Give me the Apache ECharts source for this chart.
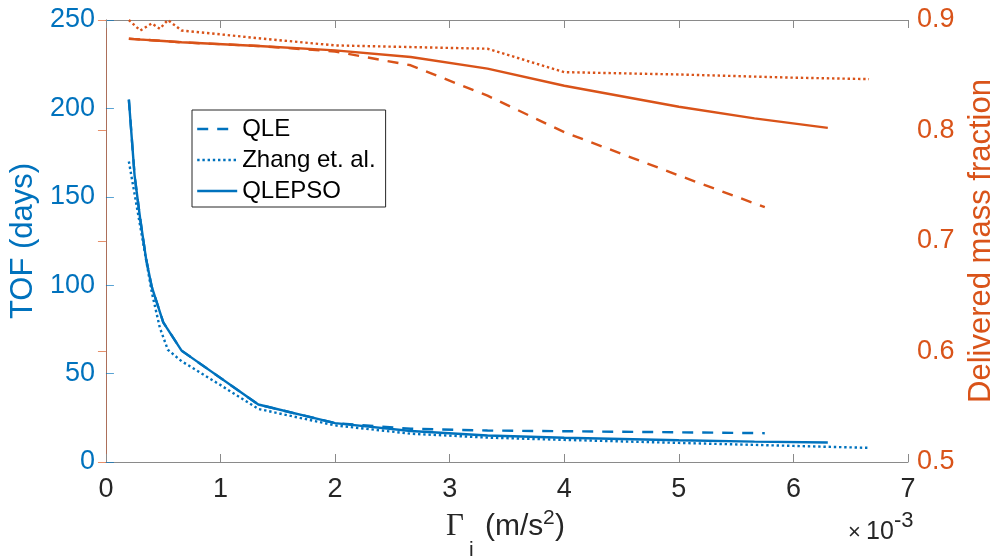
<!DOCTYPE html>
<html>
<head>
<meta charset="utf-8">
<script src="https://cdn.jsdelivr.net/npm/echarts@6/dist/echarts.min.js"></script>
<style>
html,body{margin:0;padding:0;background:#fff;}
#chart{width:1005px;height:559px;}
</style>
</head>
<body>
<div id="chart"></div>
<script>
// ---- data (Gamma in units of 1e-3 m/s^2) ----
const xTicks = [0, 1, 2, 3, 4, 5, 6, 7];
const tofTicks = [0, 50, 100, 150, 200, 250];
const massTicks = [0.5, 0.6, 0.7, 0.8, 0.9];

const gammaQLE = [0.2, 0.25, 0.3, 0.35, 0.4, 0.5, 0.66, 1.33, 2.0, 2.66, 3.33, 4.0, 5.0, 5.75];
const tofQLE   = [205, 162, 137, 115, 99, 79, 63, 32.5, 22, 18.8, 17.8, 17.4, 16.8, 16.3];
const massQLE  = [0.883, 0.8827, 0.8823, 0.882, 0.8817, 0.881, 0.8798, 0.8765, 0.8715, 0.859, 0.8315, 0.7985, 0.7593, 0.7306];

const gammaZhang = [0.2, 0.3, 0.4, 0.47, 0.54, 0.66, 1.0, 1.33, 2.0, 2.66, 3.33, 4.0, 5.0, 6.0, 6.66];
const tofZhang   = [170, 133, 96, 76, 63.5, 57, 43.5, 30, 20.7, 16, 13.8, 12.5, 10.8, 9.1, 8];
const massZhang  = [0.9, 0.8905, 0.897, 0.892, 0.9, 0.8905, 0.887, 0.8835, 0.877, 0.8755, 0.874, 0.8528, 0.8507, 0.8478, 0.8465];

const gammaPSO = [0.2, 0.25, 0.3, 0.35, 0.4, 0.5, 0.66, 1.33, 2.0, 2.66, 3.33, 4.0, 5.0, 5.66, 6.3];
const tofPSO   = [205, 162, 137, 115, 99, 79, 63, 32.5, 22, 17.5, 15, 13.7, 12.3, 11.5, 11];
const massPSO  = [0.883, 0.8827, 0.8823, 0.882, 0.8817, 0.881, 0.8798, 0.8765, 0.8725, 0.8665, 0.856, 0.8405, 0.8215, 0.811, 0.8024];

const seriesNames = ['QLE', 'Zhang et. al.', 'QLEPSO'];

// ---- styles ----
const BLUE = '#0072BD';
const ORANGE = '#D95319';
const AXIS = '#262626';
const FONT = "'Liberation Sans', Arial, Helvetica, sans-serif";
const SERIF = "'Liberation Serif', 'DejaVu Serif', serif";
const DASH = [11, 9];
const DOT = [2.4, 2.8];
const LW = 2.4;

function zip(xs, ys) { return xs.map((x, i) => [x, ys[i]]); }
function lineSeries(name, xs, ys, color, type, yIdx) {
  return {
    name: name, type: 'line', yAxisIndex: yIdx, xAxisIndex: 0,
    data: zip(xs, ys), symbol: 'none', showSymbol: false, smooth: false,
    animation: false,
    lineStyle: { color: color, width: LW, type: type, cap: 'butt' },
    itemStyle: { color: color },
    emphasis: { disabled: true }
  };
}
function txt(text, x, y, size, family, color, align) {
  return { type: 'text', x: x, y: y, silent: true,
    style: { text: text, fontSize: size, fontFamily: family, fill: color,
             align: align || 'left', verticalAlign: 'middle' } };
}

const chart = echarts.init(document.getElementById('chart'), null, { renderer: 'canvas' });
chart.setOption({
  animation: false,
  backgroundColor: '#fff',
  textStyle: { fontFamily: FONT },
  grid: { left: 104, right: 87, top: 20, bottom: 97, containLabel: false },
  legend: {
    data: seriesNames,
    orient: 'vertical',
    left: 192, top: 110,
    itemWidth: 40, itemHeight: 14, itemGap: 7,
    padding: [7, 10, 4, 4],
    borderColor: AXIS, borderWidth: 1, backgroundColor: '#fff',
    itemStyle: { opacity: 0 },
    lineStyle: { width: LW },
    textStyle: { fontSize: 24, lineHeight: 24, color: '#000', fontFamily: FONT },
    selectedMode: false
  },
  xAxis: [{
    type: 'value', min: 0, max: 7, interval: 1, position: 'bottom',
    axisLine: { show: true, lineStyle: { color: '#8a8a8a', width: 1 } },
    axisTick: { show: true, inside: true, length: 8, lineStyle: { color: '#8a8a8a' } },
    axisLabel: { color: AXIS, fontSize: 27, margin: 14, fontFamily: FONT,
      formatter: function (v) { return xTicks.indexOf(v) >= 0 ? String(v) : ''; } },
    splitLine: { show: false }
  }, {
    type: 'value', min: 0, max: 7, interval: 1, position: 'top',
    axisLine: { show: true, lineStyle: { color: '#8a8a8a', width: 1 } },
    axisTick: { show: true, inside: true, length: 8, lineStyle: { color: '#8a8a8a' } },
    axisLabel: { show: false }, splitLine: { show: false }
  }],
  yAxis: [{
    type: 'value', min: 0, max: 250, interval: 50, position: 'left',
    name: 'TOF (days)', nameLocation: 'middle', nameGap: 62,
    nameTextStyle: { color: BLUE, fontSize: 31, fontFamily: FONT },
    axisLine: { show: true, lineStyle: { color: BLUE, width: 1, opacity: 0.65 } },
    axisTick: { show: true, inside: true, length: 8, lineStyle: { color: BLUE, opacity: 0.65 } },
    axisLabel: { color: BLUE, fontSize: 27, margin: 11, fontFamily: FONT,
      formatter: function (v) { return tofTicks.indexOf(v) >= 0 ? String(v) : ''; } },
    splitLine: { show: false }
  }, {
    type: 'value', min: 0.5, max: 0.9, interval: 0.1, position: 'right',
    name: 'Delivered mass fraction', nameLocation: 'middle', nameGap: 58,
    nameTextStyle: { color: ORANGE, fontSize: 31, fontFamily: FONT },
    axisLine: { show: true, lineStyle: { color: ORANGE, width: 1, opacity: 0.65 } },
    axisTick: { show: true, inside: true, length: 8, lineStyle: { color: ORANGE, opacity: 0.65 } },
    axisLabel: { color: ORANGE, fontSize: 27, margin: 9, fontFamily: FONT,
      formatter: function (v) {
        const r = Math.round(v * 10) / 10;
        return massTicks.indexOf(r) >= 0 ? r.toFixed(1) : '';
      } },
    splitLine: { show: false }
  }],
  graphic: [
    // x-axis title: Γ_i (m/s^2)
    txt('Γ', 446, 527, 31, SERIF, AXIS),
    txt('i', 469, 550, 21, FONT, AXIS),
    txt('(m/s', 485, 527, 30, FONT, AXIS),
    txt('2', 543, 518, 21, FONT, AXIS),
    txt(')', 555, 527, 30, FONT, AXIS),
    // exponent label ×10^-3
    txt('×', 848, 533, 22, FONT, AXIS),
    txt('10', 866, 532, 25, FONT, AXIS),
    txt('-3', 894, 521, 22, FONT, AXIS)
  ],
  series: [
    lineSeries('QLE mass', gammaQLE, massQLE, ORANGE, DASH, 1),
    lineSeries('Zhang mass', gammaZhang, massZhang, ORANGE, DOT, 1),
    lineSeries('QLEPSO mass', gammaPSO, massPSO, ORANGE, 'solid', 1),
    lineSeries('QLE', gammaQLE, tofQLE, BLUE, DASH, 0),
    lineSeries('Zhang et. al.', gammaZhang, tofZhang, BLUE, DOT, 0),
    lineSeries('QLEPSO', gammaPSO, tofPSO, BLUE, 'solid', 0)
  ]
});
</script>
</body>
</html>
